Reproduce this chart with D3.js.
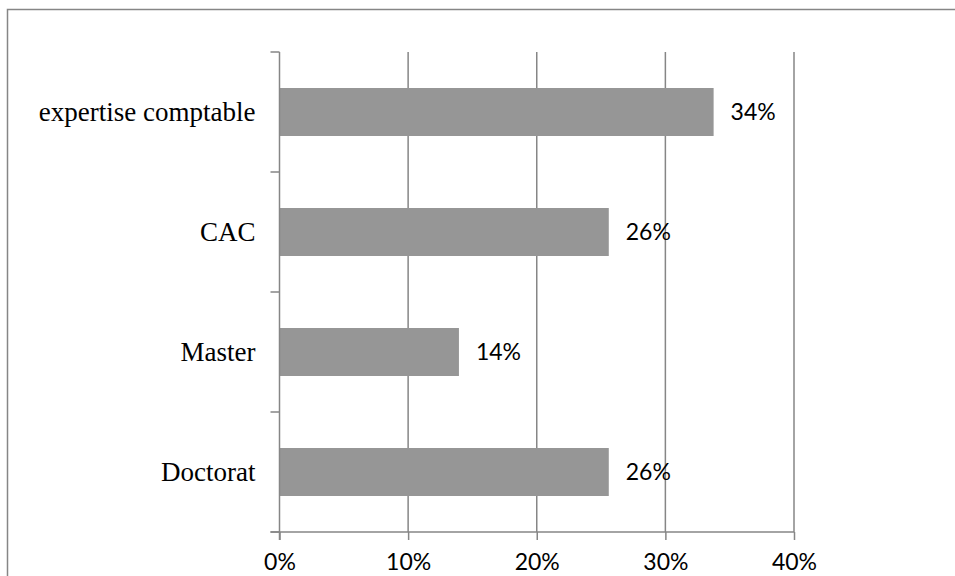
<!DOCTYPE html>
<html>
<head>
<meta charset="utf-8">
<script src="https://cdn.jsdelivr.net/npm/d3@7"></script>
<style>
  body { margin: 0; background: #fff; }
  svg { display: block; }
</style>
</head>
<body>
<div id="chart"></div>
<script>
// Données
const categories = ['expertise comptable', 'CAC', 'Master', 'Doctorat'];
const values = [0.3375, 0.256, 0.1395, 0.256];
const valueLabels = ['34%', '26%', '14%', '26%'];
const xTicks = [0, 0.1, 0.2, 0.3, 0.4];

const width = 955;
const height = 576;
const lineColor = '#868686';

const svg = d3.select('#chart')
  .append('svg')
  .attr('width', width)
  .attr('height', height);

// Cadre du graphique
svg.append('rect')
  .attr('x', 7.5)
  .attr('y', 9.5)
  .attr('width', 1000)
  .attr('height', 700)
  .attr('fill', 'none')
  .attr('stroke', lineColor)
  .attr('stroke-width', 1.5);

// Échelles
const x = d3.scaleLinear().domain([0, 0.4]).range([279.5, 794]);
const y = d3.scaleBand()
  .domain(categories)
  .range([52, 532])
  .paddingInner(0.6)
  .paddingOuter(0.3);

// Grille verticale
svg.append('g')
  .selectAll('line')
  .data(xTicks.slice(1))
  .enter().append('line')
  .attr('x1', d => x(d))
  .attr('x2', d => x(d))
  .attr('y1', 52)
  .attr('y2', 532)
  .attr('stroke', lineColor)
  .attr('stroke-width', 1.5);

// Barres
svg.append('g')
  .selectAll('rect')
  .data(categories)
  .enter().append('rect')
  .attr('x', x(0))
  .attr('y', d => y(d))
  .attr('width', (d, i) => x(values[i]) - x(0))
  .attr('height', y.bandwidth())
  .attr('fill', '#969696');

// Axe Y (catégories) : graduations entre les bandes
const yAxis = svg.append('g');
yAxis.append('line')
  .attr('x1', x(0)).attr('x2', x(0))
  .attr('y1', 52).attr('y2', 540)
  .attr('stroke', lineColor).attr('stroke-width', 1.5);
const bounds = categories.map(c => y(c) - y.step() * y.paddingOuter()).concat([532]);
yAxis.selectAll('.tick')
  .data(bounds)
  .enter().append('line')
  .attr('x1', x(0) - 9).attr('x2', x(0))
  .attr('y1', d => d).attr('y2', d => d)
  .attr('stroke', lineColor).attr('stroke-width', 1.5);
yAxis.selectAll('text')
  .data(categories)
  .enter().append('text')
  .attr('x', x(0) - 24)
  .attr('y', d => y(d) + y.bandwidth() / 2)
  .attr('dy', '0.35em')
  .attr('text-anchor', 'end')
  .attr('font-family', '"Liberation Serif", "Times New Roman", serif')
  .attr('font-size', 27)
  .attr('fill', '#000')
  .text(d => d);

// Axe X
const xAxis = svg.append('g')
  .attr('transform', 'translate(0,532)')
  .call(d3.axisBottom(x).tickValues(xTicks).tickFormat(d3.format('.0%')).tickSize(8).tickPadding(14));
xAxis.select('.domain').remove();
xAxis.append('line')
  .attr('x1', x(0) - 9).attr('x2', x(0.4))
  .attr('stroke', lineColor).attr('stroke-width', 1.5);
xAxis.selectAll('.tick line').attr('stroke', lineColor).attr('stroke-width', 1.5);
xAxis.selectAll('.tick text')
  .attr('font-family', 'Lato, "Open Sans", sans-serif')
  .attr('font-size', 23)
  .attr('fill', '#000');

// Étiquettes de valeur
svg.append('g')
  .selectAll('text')
  .data(categories)
  .enter().append('text')
  .attr('x', (d, i) => x(values[i]) + 17)
  .attr('y', d => y(d) + y.bandwidth() / 2)
  .attr('dy', '0.35em')
  .attr('font-family', 'Lato, "Open Sans", sans-serif')
  .attr('font-size', 23)
  .attr('fill', '#000')
  .text((d, i) => valueLabels[i]);
</script>
</body>
</html>
